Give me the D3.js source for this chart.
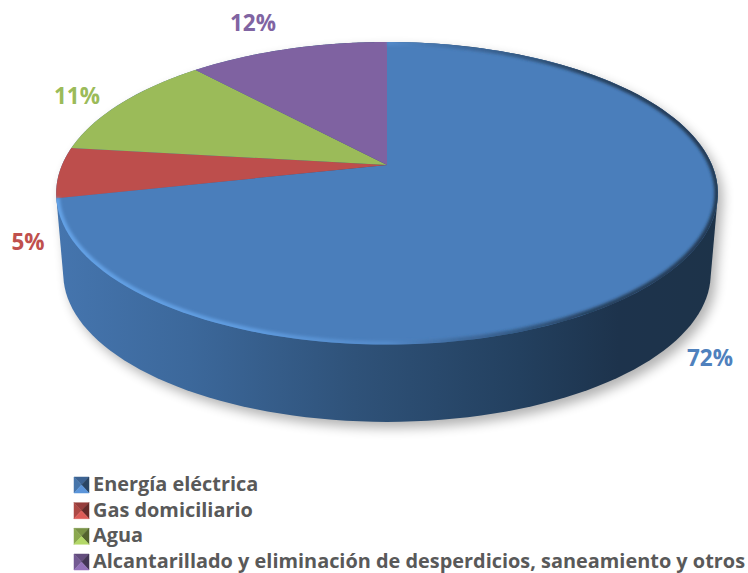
<!DOCTYPE html>
<html>
<head>
<meta charset="utf-8">
<script src="https://cdn.jsdelivr.net/npm/d3@7"></script>
<style>
  html, body { margin: 0; padding: 0; background: #fff; }
  svg { display: block; }
  text { font-family: "Open Sans", sans-serif; font-weight: 700; }
</style>
</head>
<body>
<svg id="chart" width="748" height="573"></svg>
<script>
var categories = ["Energía eléctrica", "Gas domiciliario", "Agua", "Alcantarillado y eliminación de desperdicios, saneamiento y otros"];
var values = [71.5, 5.4, 11.4, 11.7];
var labels = ["72%", "5%", "11%", "12%"];
var topColors = ["#4a7ebb", "#bd4e4c", "#9bbb59", "#7f62a1"];
var labelColors = ["#4f81bd", "#c0504d", "#9bbb59", "#8064a2"];

var svg = d3.select("#chart");
var defs = svg.append("defs");

// perspective: a flat circle seen at an angle, the near side is bigger
var tilt = -0.187;
function project(angle, cx, cy, a, b) {
  var x = Math.sin(angle), y = -Math.cos(angle);
  var w = 1 + tilt * y;
  return [cx + a * x / w, cy + b * y / w];
}
function topPoint(angle) { return project(angle, 387, 165, 325, 146); }
function basePoint(angle) { return project(angle, 387, 246, 318, 143); }

var pie = d3.pie().sort(null).value(d => d);
var slices = pie(values);
var line = d3.line();

function arcPoints(d, fn) {
  return d3.range(0, 181).map(i => fn(d.startAngle + (d.endAngle - d.startAngle) * i / 180));
}

defs.append("filter").attr("id", "soft").attr("x", "-20%").attr("y", "-20%").attr("width", "140%").attr("height", "140%")
  .append("feGaussianBlur").attr("stdDeviation", 6);
defs.append("filter").attr("id", "rimBlur").attr("x", "-10%").attr("y", "-10%").attr("width", "120%").attr("height", "120%")
  .append("feGaussianBlur").attr("stdDeviation", 1.4);
defs.append("filter").attr("id", "swatchBlur")
  .append("feGaussianBlur").attr("stdDeviation", 0.5);

var wallGrad = defs.append("linearGradient").attr("id", "wall").attr("gradientUnits", "userSpaceOnUse")
  .attr("x1", 57).attr("x2", 718).attr("y1", 0).attr("y2", 0);
[[0, "#4575ae"], [0.2, "#3c689b"], [0.45, "#2f5279"], [0.7, "#23405f"], [0.85, "#1d334c"], [1, "#1d3349"]].forEach(s => {
  wallGrad.append("stop").attr("offset", s[0]).attr("stop-color", s[1]);
});

var rimGrad = defs.append("linearGradient").attr("id", "rim").attr("gradientUnits", "userSpaceOnUse")
  .attr("x1", 57).attr("x2", 718).attr("y1", 0).attr("y2", 0);
[[0, "#64a2e6", 1], [0.3, "#5f9ce0", 0.95], [0.5, "#5a93d4", 0.6], [0.62, "#2f527a", 0.5], [0.8, "#1d3349", 0.8], [1, "#1d3349", 0.9]].forEach(s => {
  rimGrad.append("stop").attr("offset", s[0]).attr("stop-color", s[1]).attr("stop-opacity", s[2]);
});

var fullCircle = { startAngle: 0, endAngle: Math.PI * 2 };
var body = d3.polygonHull(arcPoints(fullCircle, topPoint).concat(arcPoints(fullCircle, basePoint)));

// soft shadow under the base
svg.append("path")
  .attr("d", line(body) + "Z")
  .attr("transform", "translate(5,6)")
  .attr("fill", "#000").attr("opacity", 0.3)
  .attr("filter", "url(#soft)");

// outer wall
svg.append("path")
  .attr("d", line(body) + "Z")
  .attr("fill", "url(#wall)");

// top face
svg.selectAll("path.slice")
  .data(slices)
  .join("path")
  .classed("slice", true)
  .attr("d", d => line([[387, 165]].concat(arcPoints(d, topPoint))) + "Z")
  .attr("fill", (d, i) => topColors[i]);

// bevel along the rim of the first slice
defs.append("clipPath").attr("id", "topClip")
  .append("path").attr("d", line(arcPoints(fullCircle, topPoint)) + "Z");
svg.append("g").attr("clip-path", "url(#topClip)")
  .append("path")
  .attr("d", line(arcPoints(slices[0], topPoint)))
  .attr("fill", "none")
  .attr("stroke", "url(#rim)")
  .attr("stroke-width", 7)
  .attr("filter", "url(#rimBlur)");

// data labels
var labelX = [710, 28, 77, 253];
var labelY = [366, 250, 104, 31];
svg.selectAll("text.label")
  .data(labels)
  .join("text")
  .classed("label", true)
  .attr("x", (d, i) => labelX[i])
  .attr("y", (d, i) => labelY[i])
  .attr("text-anchor", "middle")
  .attr("font-size", 22.5)
  .attr("fill", (d, i) => labelColors[i])
  .text(d => d);

// legend
var legendY = d3.scaleLinear().domain([0, 3]).range([491, 568]);
var legend = svg.selectAll("g.legend")
  .data(categories)
  .join("g")
  .classed("legend", true)
  .attr("transform", (d, i) => "translate(74," + legendY(i) + ")");

legend.each(function(d, i) {
  var g = d3.select(this).append("g").attr("filter", "url(#swatchBlur)");
  var c = d3.color(labelColors[i]);
  var w = 15, h = 16, y0 = -14, mx = w / 2, my = y0 + h / 2;
  var faces = [
    [[0, y0], [w, y0], [mx, my], c.darker(0.7)],
    [[0, y0], [0, y0 + h], [mx, my], c.darker(0.3)],
    [[w, y0], [w, y0 + h], [mx, my], c.darker(1.8)],
    [[0, y0 + h], [w, y0 + h], [mx, my], c.brighter(0.4)]
  ];
  faces.forEach(f => {
    g.append("path").attr("d", line(f.slice(0, 3)) + "Z")
      .attr("fill", f[3]).attr("stroke", f[3]).attr("stroke-width", 0.5);
  });
});

legend.append("text")
  .attr("x", 19)
  .attr("y", 0)
  .attr("font-size", 19.9)
  .attr("fill", "#595959")
  .text(d => d);
</script>
</body>
</html>
